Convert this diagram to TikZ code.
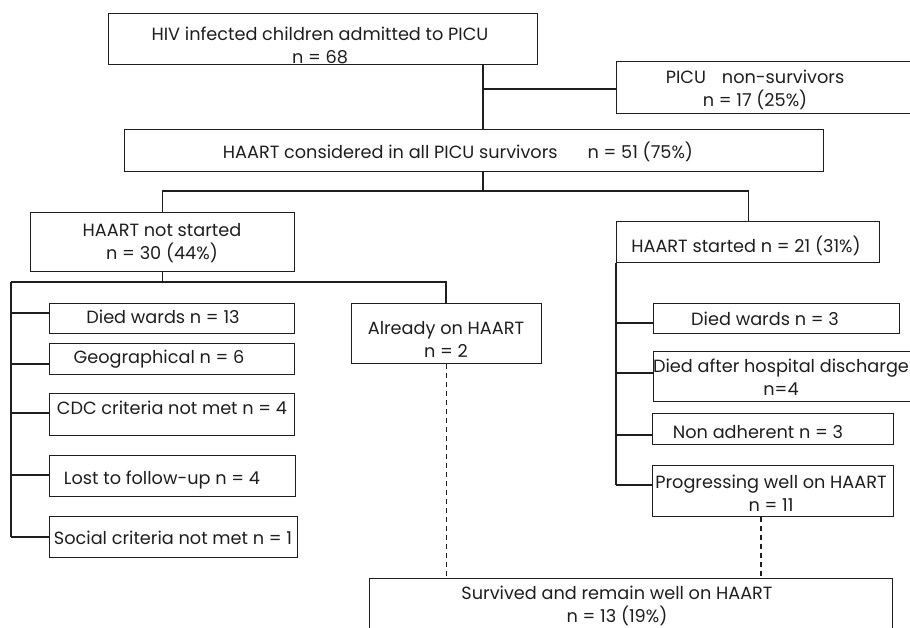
\documentclass[tikz,border=0pt]{standalone}
\usepackage{fontspec}
\setmainfont{Poppins}
\definecolor{ink}{RGB}{30,30,30}
\begin{document}
\begin{tikzpicture}[x=1pt,y=-1pt,
  box/.style={draw=ink, line width=1.1pt, inner sep=0pt, anchor=north west},
  txt/.style={align=center, inner sep=0pt, font=\fontsize{17.7}{23}\selectfont, text=ink},
  txtb/.style={txt, anchor=base},
  conn/.style={draw=ink, line width=1.1pt},
  dashconn/.style={conn, dash pattern=on 5pt off 4pt}]
\useasboundingbox (0,0) rectangle (910,627);
% boxes
\node[box, minimum width=429pt, minimum height=51pt] (top) at (108,13) {};
\node[box, minimum width=310pt, minimum height=52pt] (nonsurv) at (616,61) {};
\node[box, minimum width=699pt, minimum height=42pt] (considered) at (124,129) {};
\node[box, minimum width=264pt, minimum height=59pt] (notstarted) at (30,212) {};
\node[box, minimum width=263pt, minimum height=41pt] (started) at (616,221) {};
\node[box, minimum width=245pt, minimum height=30pt] (died13) at (49,303) {};
\node[box, minimum width=245pt, minimum height=31pt] (geo) at (49,343) {};
\node[box, minimum width=245pt, minimum height=42pt] (cdc) at (49,393) {};
\node[box, minimum width=246pt, minimum height=41pt] (lost) at (49,455) {};
\node[box, minimum width=248pt, minimum height=41pt] (social) at (49,516) {};
\node[box, minimum width=190pt, minimum height=60pt] (already) at (351,303) {};
\node[box, minimum width=246pt, minimum height=30pt] (died3) at (653,303) {};
\node[box, minimum width=270pt, minimum height=50pt] (discharge) at (653,351) {};
\node[box, minimum width=241pt, minimum height=31pt] (nonadh) at (652,413) {};
\node[box, minimum width=241pt, minimum height=51pt] (prog) at (652,465) {};
\node[box, minimum width=523pt, minimum height=70pt] (survived) at (369,578) {};
% texts
\node[txt] (topT) at (320,45) {HIV infected children admitted to PICU\\ n = 68};
\node[txt] (nonsurvT) at (755,89.5) {PICU\hspace{16pt}non-survivors\\ n = 17 (25\%)};
\node[txtb] (consideredT) at (458,158) {HAART considered in all PICU survivors\hspace{30pt}n = 51 (75\%)};
\node[txt] (notstartedT) at (162,243.5) {HAART not started\\ n = 30 (44\%)};
\node[txtb] (startedT) at (746,252) {HAART started n = 21 (31\%)};
\node[txtb] (died13T) at (163,323) {Died wards n = 13};
\node[txtb] (geoT) at (159,363) {Geographical n = 6};
\node[txtb] (cdcT) at (172,414) {CDC criteria not met n = 4};
\node[txtb] (lostT) at (162,484) {Lost to follow-up n = 4};
\node[txtb] (socialT) at (173,544) {Social criteria not met n = 1};
\node[txt] (alreadyT) at (446,339.5) {Already on HAART\\ n = 2};
\node[txtb] (died3T) at (765,325) {Died wards n = 3};
\node[txt] (dischargeT) at (781,377.5) {Died after hospital discharge\\ n=4};
\node[txtb] (nonadhT) at (758,438) {Non adherent n = 3};
\node[txt] (progT) at (771,493.5) {Progressing well on HAART\\ n = 11};
\node[txt] (survT) at (617,605.5) {Survived and remain well on HAART\\ n = 13 (19\%)};
% junctions
\coordinate (jA) at (483,89);
\coordinate (jB) at (483,191);
\coordinate (jC) at (11,282);
\coordinate (jD) at (446,282);
\coordinate (bD13) at (11,313);
\coordinate (bGeo) at (11,364);
\coordinate (bCdc) at (11,413);
\coordinate (bLost) at (11,475);
\coordinate (bSoc) at (11,537);
\coordinate (bD3) at (616,323);
\coordinate (bDis) at (616,373);
\coordinate (bNon) at (616,435);
\coordinate (bProg) at (616,485);
\coordinate (dP) at (761,520);
% connectors
\draw[conn] (top.south -| jA) -- (considered.north -| jA);
\draw[conn] (jA) -- (jA -| nonsurv.west);
\draw[conn] (considered.south -| jB) -- (jB);
\draw[conn] (notstarted.north) -- (notstarted.north |- jB) -- (started.north |- jB) -- (started.north);
\draw[conn] (notstarted.south) -- (notstarted.south |- jC);
\draw[conn] (jC) -- (jD) -- (already.north -| jD);
\draw[conn] (jC) -- (bSoc);
\draw[conn] (bD13) -- (bD13 -| died13.west);
\draw[conn] (bGeo) -- (bGeo -| geo.west);
\draw[conn] (bCdc) -- (bCdc -| cdc.west);
\draw[conn] (bLost) -- (bLost -| lost.west);
\draw[conn] (bSoc) -- (bSoc -| social.west);
\draw[conn] (started.south west) -- (bProg);
\draw[conn] (bD3) -- (bD3 -| died3.west);
\draw[conn] (bDis) -- (bDis -| discharge.west);
\draw[conn] (bNon) -- (bNon -| nonadh.west);
\draw[conn] (bProg) -- (bProg -| prog.west);
\draw[dashconn] (already.south) -- (survived.north -| already.south);
\draw[dashconn] (prog.south -| dP) -- (survived.north -| dP);
\end{tikzpicture}
\end{document}
